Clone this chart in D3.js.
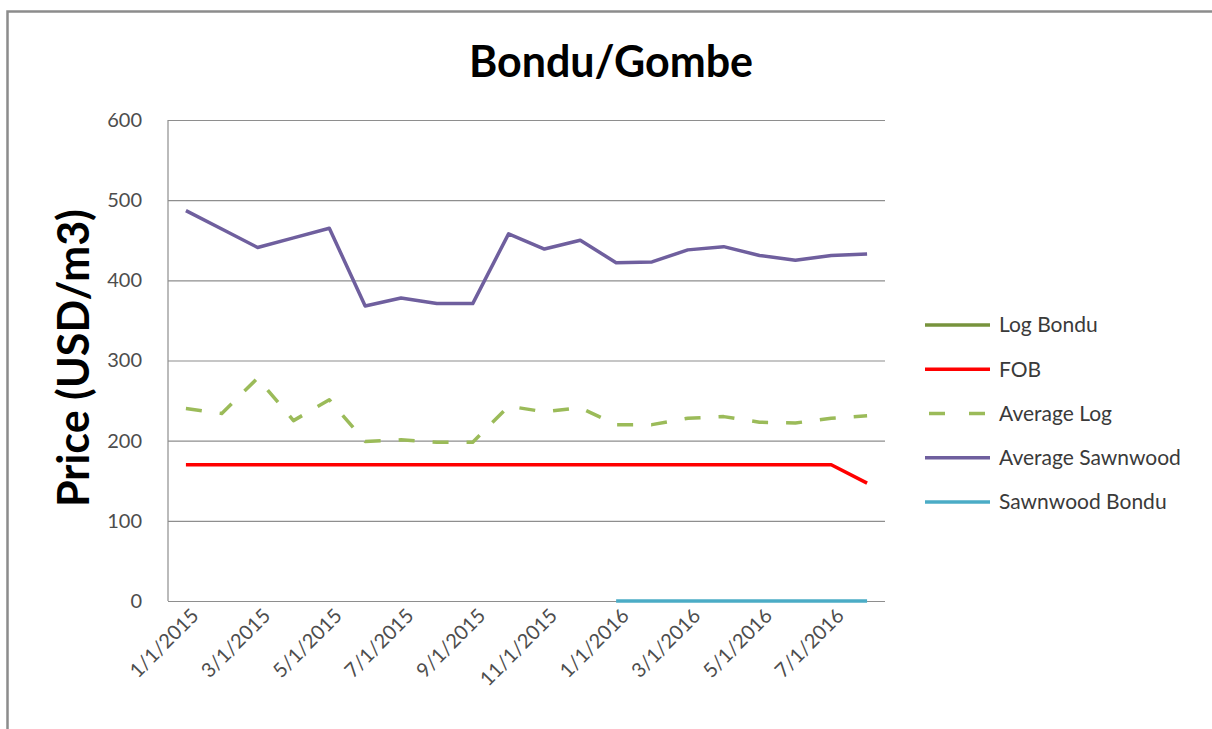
<!DOCTYPE html>
<html>
<head>
<meta charset="utf-8">
<script src="https://cdn.jsdelivr.net/npm/d3@7"></script>
<style>
  html, body { margin: 0; padding: 0; background: #fff; }
  svg { display: block; }
</style>
</head>
<body>
<svg id="chart" width="1212" height="729"></svg>
<script>
// Monthly prices, Jan 2015 – Aug 2016 (USD/m3)
const months = [
  "1/1/2015", "2/1/2015", "3/1/2015", "4/1/2015", "5/1/2015", "6/1/2015", "7/1/2015",
  "8/1/2015", "9/1/2015", "10/1/2015", "11/1/2015", "12/1/2015", "1/1/2016", "2/1/2016",
  "3/1/2016", "4/1/2016", "5/1/2016", "6/1/2016", "7/1/2016", "8/1/2016"
];
const logBondu = [null, null, null, null, null, null, null, null, null, null,
  null, null, null, null, null, null, null, null, null, null];
const fob = [170, 170, 170, 170, 170, 170, 170, 170, 170, 170,
  170, 170, 170, 170, 170, 170, 170, 170, 170, 147];
const averageLog = [240, 234, 278, 225, 251, 199, 201, 198, 198, 243,
  236, 241, 220, 220, 228, 230, 223, 222, 228, 231];
const averageSawnwood = [487, 464, 441, 453, 465, 368, 378, 371, 371, 458,
  439, 450, 422, 423, 438, 442, 431, 425, 431, 433];
const sawnwoodBondu = [null, null, null, null, null, null, null, null, null, null,
  null, null, 0, 0, 0, 0, 0, 0, 0, 0];
const yTicks = [0, 100, 200, 300, 400, 500, 600];
const xTickLabels = ["1/1/2015", "3/1/2015", "5/1/2015", "7/1/2015", "9/1/2015",
  "11/1/2015", "1/1/2016", "3/1/2016", "5/1/2016", "7/1/2016"];

const series = [
  { name: "Log Bondu", values: logBondu, color: "#77933C", dash: null },
  { name: "FOB", values: fob, color: "#FF0000", dash: null },
  { name: "Average Log", values: averageLog, color: "#9BBB59", dash: "16,18" },
  { name: "Average Sawnwood", values: averageSawnwood, color: "#6F5F9E", dash: null },
  { name: "Sawnwood Bondu", values: sawnwoodBondu, color: "#4BACC6", dash: null }
];

const font = "Lato, 'Open Sans', 'DejaVu Sans', sans-serif";
const svg = d3.select("#chart");

// chart-area frame
svg.append("path")
  .attr("d", "M7.5,729 L7.5,11.5 L1212,11.5")
  .attr("fill", "none").attr("stroke", "#8c8c8c").attr("stroke-width", 2.5);

const plot = { left: 168, right: 885, top: 120, bottom: 601 };

const x = d3.scaleBand().domain(months).range([plot.left, plot.right]);
const y = d3.scaleLinear().domain([0, 600]).range([plot.bottom, plot.top]);
const cx = m => x(m) + x.bandwidth() / 2;

// horizontal gridlines
svg.append("g")
  .attr("transform", `translate(${plot.left},0)`)
  .call(d3.axisLeft(y).tickValues(yTicks).tickSize(-(plot.right - plot.left)).tickFormat(""))
  .call(g => g.select(".domain").remove())
  .call(g => g.selectAll("line").attr("stroke", "#8e8e8e").attr("stroke-width", 1.2));

// y axis line
svg.append("line")
  .attr("x1", plot.left).attr("x2", plot.left)
  .attr("y1", plot.top).attr("y2", plot.bottom)
  .attr("stroke", "#8e8e8e").attr("stroke-width", 1.2);

// y tick labels
svg.append("g")
  .attr("transform", `translate(${plot.left},0)`)
  .call(d3.axisLeft(y).tickValues(yTicks).tickSize(0).tickPadding(26))
  .call(g => g.select(".domain").remove())
  .call(g => g.selectAll("text")
    .attr("font-family", font).attr("font-size", 20).attr("fill", "#4d4d4d"));

// x tick labels (every second month)
svg.append("g")
  .attr("transform", `translate(0,${plot.bottom})`)
  .call(d3.axisBottom(x).tickValues(xTickLabels).tickSize(0).tickPadding(0))
  .call(g => g.select(".domain").remove())
  .call(g => g.selectAll("text")
    .attr("font-family", font).attr("font-size", 20).attr("fill", "#4d4d4d")
    .attr("text-anchor", "end")
    .attr("dy", null)
    .attr("transform", "translate(14,16) rotate(-45)"));

// series lines
const line = d3.line()
  .defined(d => d.v !== null)
  .x(d => cx(d.m))
  .y(d => y(d.v));

series.forEach(s => {
  svg.append("path")
    .datum(months.map((m, i) => ({ m, v: s.values[i] })))
    .attr("fill", "none")
    .attr("stroke", s.color)
    .attr("stroke-width", 3.5)
    .attr("stroke-linejoin", "round")
    .attr("stroke-dasharray", s.dash)
    .attr("d", line);
});

// legend
const legendY = d3.scalePoint().domain(series.map(s => s.name)).range([325, 502]);
const legend = svg.append("g");
series.forEach(s => {
  const ly = legendY(s.name);
  legend.append("line")
    .attr("x1", 925).attr("x2", 990).attr("y1", ly).attr("y2", ly)
    .attr("stroke", s.color).attr("stroke-width", 3.5)
    .attr("stroke-dasharray", s.dash ? "16,24" : null)
    .attr("stroke-dashoffset", s.dash ? -4 : null);
  legend.append("text")
    .attr("x", 999).attr("y", ly).attr("dy", "0.35em")
    .attr("font-family", font).attr("font-size", 21).attr("fill", "#3a3a3a")
    .text(s.name);
});

// title
svg.append("text")
  .attr("x", 611).attr("y", 77)
  .attr("text-anchor", "middle")
  .attr("font-family", font).attr("font-weight", "bold").attr("font-size", 43)
  .attr("fill", "#000")
  .text("Bondu/Gombe");

// y axis title
svg.append("text")
  .attr("transform", "translate(89,358) rotate(-90)")
  .attr("text-anchor", "middle")
  .attr("font-family", font).attr("font-weight", "bold").attr("font-size", 43)
  .attr("fill", "#000")
  .text("Price (USD/m3)");
</script>
</body>
</html>
